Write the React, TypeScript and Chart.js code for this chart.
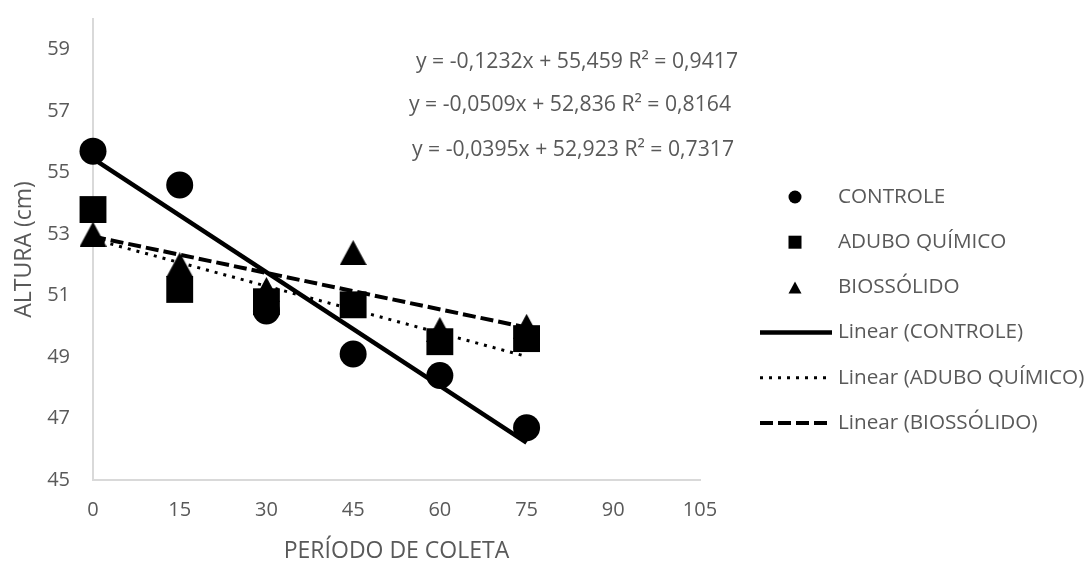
import React, { useEffect, useRef } from "react";
import { Chart, registerables } from "chart.js";

Chart.register(...registerables);

// ---- data ----
const periods = [0, 15, 30, 45, 60, 75];
const controle = [55.7, 54.6, 50.5, 49.1, 48.4, 46.7];
const aduboQuimico = [53.8, 51.2, 50.8, 50.7, 49.5, 49.6];
const biossolido = [53.0, 52.0, 51.2, 52.4, 49.9, 50.0];
const seriesNames = ["CONTROLE", "ADUBO QUÍMICO", "BIOSSÓLIDO"];
const trendNames = ["Linear (CONTROLE)", "Linear (ADUBO QUÍMICO)", "Linear (BIOSSÓLIDO)"];
const trendSlopes = [-0.1232, -0.0509, -0.0395];
const trendIntercepts = [55.459, 52.836, 52.923];
const trendRange = [0, 75];
const equationLabels = [
  "y = -0,1232x + 55,459 R² = 0,9417",
  "y = -0,0509x + 52,836 R² = 0,8164",
  "y = -0,0395x + 52,923 R² = 0,7317",
];
const xTicks = [0, 15, 30, 45, 60, 75, 90, 105];
const yTicks = [45, 47, 49, 51, 53, 55, 57, 59];
const xTitle = "PERÍODO DE COLETA";
const yTitle = "ALTURA (cm)";

// ---- styles ----
const FONT = "'Open Sans', sans-serif";
const TEXT = "#595959";
const AXIS = "#d9d9d9";
const W = 1092;
const H = 563;

function makeTriangle(w: number, h: number) {
  const c = document.createElement("canvas");
  c.width = w;
  c.height = h;
  const g = c.getContext("2d")!;
  g.fillStyle = "#000";
  g.beginPath();
  g.moveTo(w / 2, 0);
  g.lineTo(w, h);
  g.lineTo(0, h);
  g.closePath();
  g.fill();
  return c;
}

const lineStyles = [
  { width: 4.5, dash: [] as number[] },
  { width: 3, dash: [3, 6] },
  { width: 4, dash: [13, 5] },
];

const overlayPlugin = {
  id: "overlay",
  afterDraw(chart: any) {
    const ctx = chart.ctx as CanvasRenderingContext2D;
    ctx.save();
    ctx.fillStyle = TEXT;
    ctx.textAlign = "left";
    ctx.textBaseline = "middle";
    ctx.font = `21.2px ${FONT}`;
    const eqX = [416, 409, 412];
    const eqY = [62, 105, 150];
    equationLabels.forEach((t, i) => ctx.fillText(t, eqX[i], eqY[i]));

    // legend
    const rowY0 = 197;
    const rowStep = 45.2;
    const markerX = 795;
    const textX = 838;
    ctx.font = `20.7px ${FONT}`;
    const labels = [...seriesNames, ...trendNames];
    labels.forEach((t, i) => {
      const y = rowY0 + i * rowStep;
      ctx.fillStyle = TEXT;
      ctx.fillText(t, textX, y);
      ctx.fillStyle = "#000";
      ctx.strokeStyle = "#000";
      if (i === 0) {
        ctx.beginPath();
        ctx.arc(markerX, y, 6.5, 0, Math.PI * 2);
        ctx.fill();
      } else if (i === 1) {
        ctx.fillRect(markerX - 6.5, y - 6.5, 13, 13);
      } else if (i === 2) {
        ctx.beginPath();
        ctx.moveTo(markerX, y - 6);
        ctx.lineTo(markerX + 6.5, y + 6);
        ctx.lineTo(markerX - 6.5, y + 6);
        ctx.closePath();
        ctx.fill();
      } else {
        const s = lineStyles[i - 3];
        ctx.lineWidth = s.width;
        ctx.setLineDash(s.dash);
        ctx.beginPath();
        ctx.moveTo(760, y);
        ctx.lineTo(832, y);
        ctx.stroke();
        ctx.setLineDash([]);
      }
    });
    ctx.restore();
  },
};

export default function App() {
  const ref = useRef<HTMLCanvasElement | null>(null);
  useEffect(() => {
    if (!ref.current) return;
    const tri = makeTriangle(27, 25);
    const seriesValues = [controle, aduboQuimico, biossolido];
    const pointStyles: any[] = ["circle", "rect", tri];
    const radii = [13.5, 19, 13];
    const scatterSets = seriesValues.map((vals, i) => ({
      label: seriesNames[i],
      data: periods.map((p, j) => ({ x: p, y: vals[j] })),
      pointStyle: pointStyles[i],
      pointRadius: radii[i],
      pointBackgroundColor: "#000",
      pointBorderColor: "#000",
      pointBorderWidth: 0,
      showLine: false,
      clip: false,
      order: 2,
    }));
    const trendSets = trendSlopes.map((m, i) => ({
      label: trendNames[i],
      data: trendRange.map((x) => ({ x, y: m * x + trendIntercepts[i] })),
      showLine: true,
      pointRadius: 0,
      borderColor: "#000",
      borderWidth: lineStyles[i].width,
      borderDash: lineStyles[i].dash,
      fill: false,
      clip: false,
      order: 1,
    }));
    const chart = new Chart(ref.current, {
      type: "scatter",
      data: { datasets: [...scatterSets, ...trendSets] as any },
      plugins: [overlayPlugin as any],
      options: {
        responsive: false,
        animation: false,
        layout: { padding: { left: 13, top: 15, right: W - 700, bottom: 0 } },
        plugins: { legend: { display: false }, tooltip: { enabled: false } },
        scales: {
          x: {
            type: "linear",
            min: 0,
            max: 105,
            afterBuildTicks: (s: any) => {
              s.ticks = xTicks.map((v) => ({ value: v }));
            },
            afterFit: (s: any) => {
              s.height = H - 480;
              s.paddingLeft = 0;
              s.paddingRight = 0;
            },
            grid: { display: false, drawTicks: false },
            border: { display: true, color: AXIS, width: 2 },
            ticks: { color: TEXT, font: { family: FONT, size: 20 }, padding: 18, maxRotation: 0 },
            title: {
              display: true,
              text: xTitle,
              color: TEXT,
              font: { family: FONT, size: 23, lineHeight: 1 },
              padding: 0,
            },
          },
          y: {
            type: "linear",
            min: 45,
            max: 60,
            afterBuildTicks: (s: any) => {
              s.ticks = yTicks.map((v) => ({ value: v }));
            },
            afterFit: (s: any) => {
              s.width = 93 - 13;
              s.paddingTop = 0;
              s.paddingBottom = 0;
            },
            grid: { display: false, drawTicks: false },
            border: { display: true, color: AXIS, width: 2 },
            ticks: { color: TEXT, font: { family: FONT, size: 20 }, padding: 23 },
            title: {
              display: true,
              text: yTitle,
              color: TEXT,
              font: { family: FONT, size: 23, lineHeight: 1 },
              padding: 0,
            },
          },
        },
      },
    });
    return () => chart.destroy();
  }, []);
  return (
    <div style={{ position: "absolute", left: 0, top: 0, width: W, height: H, background: "#fff" }}>
      <canvas ref={ref} width={W} height={H} style={{ display: "block" }} />
    </div>
  );
}
